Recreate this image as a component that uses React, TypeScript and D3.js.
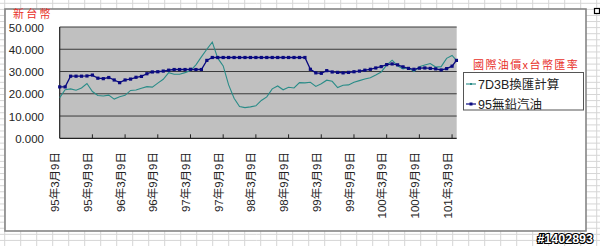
import React from "react";
import * as d3 from "d3";

// months since 95年3月9日
const months = [
  0, 1, 2, 3, 4, 5, 6, 7, 8, 9, 10, 11, 12, 13, 14, 15, 16, 17, 18, 19, 20,
  21, 22, 23, 24, 25, 26, 27, 28, 29, 30, 31, 32, 33, 34, 35, 36, 37, 38, 39,
  40, 41, 42, 43, 44, 45, 46, 47, 48, 49, 50, 51, 52, 53, 54, 55, 56, 57, 58,
  59, 60, 61, 62, 63, 64, 65, 66, 67, 68, 69, 70, 71, 72, 72.8,
];

// 95無鉛汽油
const gasoline95 = [
  23.1, 23.1, 27.9, 27.9, 27.9, 28.0, 28.4, 27.0, 26.8, 27.3, 26.2, 25.0,
  26.2, 26.6, 27.4, 27.8, 29.0, 29.8, 29.9, 30.2, 30.6, 30.9, 30.9, 30.9,
  31.0, 30.9, 30.9, 35.0, 36.3, 36.3, 36.3, 36.3, 36.3, 36.3, 36.3, 36.3,
  36.3, 36.3, 36.3, 36.3, 36.3, 36.3, 36.3, 36.3, 36.3, 36.3, 31.0, 29.4,
  29.2, 30.4, 29.8, 29.6, 29.4, 29.6, 29.9, 30.2, 30.6, 31.0, 31.6, 32.2,
  33.1, 33.4, 33.0, 32.1, 31.4, 31.0, 31.5, 31.6, 31.4, 31.2, 30.7, 31.3,
  32.4, 35.0,
];

// 7D3B換匯計算
const fx7d3b = [
  18.3, 21.8, 22.2, 21.6, 22.6, 24.6, 21.0, 19.2, 19.0, 19.4, 17.6, 18.7,
  19.3, 21.5, 21.7, 22.5, 23.2, 23.0, 24.8, 26.5, 29.5, 28.8, 28.8, 29.5,
  30.4, 33.0, 36.6, 40.0, 43.2, 36.0, 32.5, 24.0, 18.0, 14.3, 13.8, 14.1,
  14.6, 17.0, 18.6, 22.2, 23.5, 21.8, 22.9, 22.6, 25.0, 24.9, 25.2, 23.3,
  24.5, 26.1, 25.6, 22.8, 23.8, 24.0, 25.2, 25.9, 26.6, 27.2, 28.4, 29.8,
  32.9, 35.1, 32.6, 31.2, 31.8, 30.0, 32.1, 32.9, 33.6, 32.0, 32.2, 35.9,
  37.2, 35.0,
];

const xTickMonths = [0, 6, 12, 18, 24, 30, 36, 42, 48, 54, 60, 66, 72];
const xTickLabels = [
  "95年3月9日", "95年9月9日", "96年3月9日", "96年9月9日", "97年3月9日",
  "97年9月9日", "98年3月9日", "98年9月9日", "99年3月9日", "99年9月9日",
  "100年3月9日", "100年9月9日", "101年3月9日",
];
const yTicks = [0, 10, 20, 30, 40, 50];

const seriesNames = ["7D3B換匯計算", "95無鉛汽油"];
const yTitle = "新台幣";
const chartTitle = "國際油價x台幣匯率";

const W = 600;
const H = 246;
const plot = { left: 59.7, right: 456.7, top: 27, bottom: 138.3 };
const NAVY = "#0a0a80";
const TEAL = "#2a8c88";
const FONT = "'Liberation Sans', 'Noto Sans CJK TC', sans-serif";

export default function App() {
  const x = d3.scaleLinear().domain([0, 72.85]).range([plot.left, plot.right]);
  const y = d3.scaleLinear().domain([0, 50]).range([plot.bottom, plot.top]);

  const line = d3
    .line<number>()
    .x((_, i) => x(months[i]))
    .y((d) => y(d));

  const colLines: number[] = d3.range(4.7, W, 16);
  const rowLines: number[] = d3.range(3.3, H, 6.08);

  return (
    <svg
      width={W}
      height={H}
      style={{ position: "absolute", left: 0, top: 0, background: "#fff" }}
      fontFamily={FONT}
    >
      {/* spreadsheet grid */}
      <g stroke="#d6d6d6" strokeWidth={1}>
        {colLines.map((c, i) => (
          <line key={"c" + i} x1={c} x2={c} y1={0} y2={H} />
        ))}
        {rowLines.map((r, i) => (
          <line key={"r" + i} x1={0} x2={W} y1={r} y2={r} />
        ))}
      </g>
      {/* chart area */}
      <rect x={5} y={9} width={581} height={222} fill="#fff" stroke="#858585" strokeWidth={1.6} />
      <rect x={594.5} y={8.5} width={5} height={5} fill="#fff" stroke="#000" strokeWidth={1.2} />

      {/* plot area */}
      <rect
        x={plot.left}
        y={plot.top}
        width={plot.right - plot.left}
        height={plot.bottom - plot.top}
        fill="#c0c0c0"
      />
      <g stroke="#3a3a3a" strokeWidth={1}>
        {yTicks.slice(1).map((t) => (
          <line key={t} x1={plot.left} x2={plot.right} y1={y(t)} y2={y(t)} />
        ))}
      </g>
      {/* axes */}
      <line x1={plot.left} x2={plot.left} y1={plot.top} y2={plot.bottom} stroke="#222" strokeWidth={1.2} />
      <line x1={plot.left} x2={plot.right} y1={plot.bottom} y2={plot.bottom} stroke="#222" strokeWidth={1.2} />
      <g stroke="#222" strokeWidth={1}>
        {xTickMonths.slice(1).map((m) => (
          <line key={m} x1={x(m)} x2={x(m)} y1={plot.bottom} y2={plot.bottom - 4} />
        ))}
      </g>

      {/* y labels */}
      <g fontSize={11.5} fill="#222" textAnchor="end">
        {yTicks.map((t) => (
          <text key={t} x={44} y={y(t) + 4.5}>
            {t.toFixed(3)}
          </text>
        ))}
      </g>
      {/* x labels */}
      <g fontSize={11.5} fill="#222">
        {xTickMonths.map((m, i) => (
          <text
            key={m}
            transform={`translate(${x(m) - 4.4},152) rotate(-90)`}
            textAnchor="end"
            dominantBaseline="central"
          >
            {xTickLabels[i]}
          </text>
        ))}
      </g>

      {/* series */}
      <path d={line(fx7d3b) || ""} fill="none" stroke={TEAL} strokeWidth={1.1} />
      <path d={line(gasoline95) || ""} fill="none" stroke={NAVY} strokeWidth={1.3} />
      <g fill={NAVY}>
        {gasoline95.map((v, i) => (
          <rect key={i} x={x(months[i]) - 1.6} y={y(v) - 1.6} width={3.2} height={3.2} />
        ))}
      </g>

      {/* titles */}
      <text x={13} y={18} fontSize={11} fill="#e8302a" letterSpacing={2.2} fontFamily="'Noto Sans CJK TC', sans-serif">
        {yTitle}
      </text>
      <text x={473} y={69} fontSize={11} fill="#e8302a" letterSpacing={1.4} fontFamily="'Noto Sans CJK TC', sans-serif">
        {chartTitle}
      </text>

      {/* legend */}
      <rect x={463.5} y={72.5} width={120} height={37.5} fill="#fff" stroke="#555" strokeWidth={1} />
      <line x1={466} x2={476} y1={84} y2={84} stroke={TEAL} strokeWidth={1.1} />
      <rect x={470} y={83} width={2} height={2} fill={TEAL} />
      <text x={478} y={88.5} fontSize={12.5} fill="#222">
        {seriesNames[0]}
      </text>
      <line x1={466} x2={476} y1={104} y2={104} stroke={NAVY} strokeWidth={1.2} />
      <rect x={469.5} y={102.5} width={3} height={3} fill={NAVY} />
      <text x={478} y={108.5} fontSize={12.5} fill="#222">
        {seriesNames[1]}
      </text>

      {/* watermark */}
      <text
        x={593}
        y={243}
        fontSize={12.5}
        fontWeight="bold"
        textAnchor="end"
        fill="#fff"
        stroke="#000"
        strokeWidth={2.2}
        paintOrder="stroke"
        fontFamily="'Liberation Sans', sans-serif"
      >
        #1402893
      </text>
    </svg>
  );
}
